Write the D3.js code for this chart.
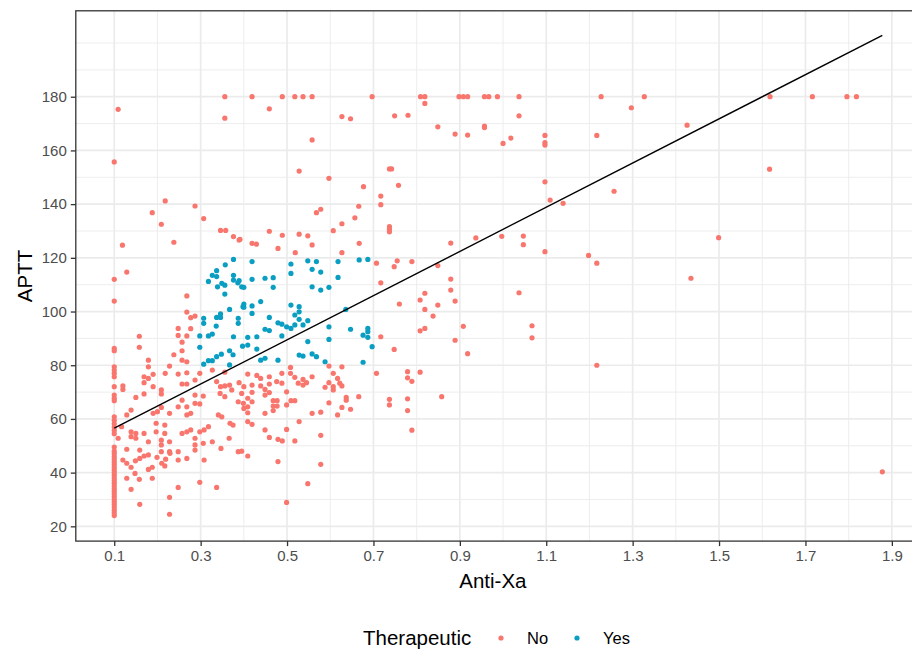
<!DOCTYPE html>
<html>
<head>
<meta charset="utf-8">
<script src="https://cdnjs.cloudflare.com/ajax/libs/d3/7.8.5/d3.min.js"></script>
<style>
  body { margin: 0; background: #fff; }
  svg text { font-family: "Liberation Sans", Arial, sans-serif; }
</style>
</head>
<body>
<div id="chart"></div>
<script>
// Anti-Xa vs APTT, coloured by Therapeutic (No / Yes)
var groups = ["No", "Yes"];
var groupColors = ["#F8766D", "#0A9EC2"];

var xTicks = [0.1, 0.3, 0.5, 0.7, 0.9, 1.1, 1.3, 1.5, 1.7, 1.9];
var yTicks = [20, 40, 60, 80, 100, 120, 140, 160, 180];
var xMinor = [0.2, 0.4, 0.6, 0.8, 1.0, 1.2, 1.4, 1.6, 1.8];
var yMinor = [30, 50, 70, 90, 110, 130, 150, 170, 190, 200];

// linear fit  APTT = a + b * AntiXa, drawn over the data range
var fitCoef = [48.3, 82.3];
var fitRange = [0.1, 1.878];

var noPoints = [
  [0.109,175.3],[0.1,155.7],[0.356,180],[0.356,172],[0.218,141.2],[0.188,136.8],[0.209,132.5],[0.287,139.3],
  [0.307,134.6],[0.346,130.2],[0.358,130.2],[0.376,127.9],[0.389,126.6],
  [0.119,124.7],[0.238,125.8],[0.129,114.7],[0.1,112],[0.1,103.9],[0.268,105.8],[0.268,99.8],[0.277,97.7],
  [0.287,98.3],[0.248,93.7],[0.277,93.6],[0.248,91.1],[0.268,90.9],[0.158,90.8],[0.158,86.7],[0.257,88.6],
  [0.1,86.3],[0.1,85.4],[0.257,85.4],[0.238,83.9],[0.257,81.9],[0.268,81.3],[0.179,81.9],[0.179,79.4],
  [0.228,79.7],[0.1,79.4],[0.1,78.2],[0.1,77],[0.1,75.7],[0.169,75.7],[0.179,75.1],[0.19,76.6],[0.218,77],
  [0.248,76.7],[0.268,77.2],[0.298,77],[0.169,73.5],[0.1,72],[0.12,72.3],[0.12,71],[0.19,72],[0.257,73],
  [0.268,73],[0.287,74.5],[0.337,73.9],[0.346,72],[0.356,72.3],[0.367,72.6],[0.389,73.5],[0.356,77.4],[0.327,78.2],
  [0.1,68.9],[0.1,67.7],[0.1,66.8],[0.1,60.8],[0.1,59.5],[0.1,58.2],[0.1,57],[0.1,55.8],[0.1,54.5],
  [0.109,52.8],[0.15,68],[0.139,63.3],[0.129,61.5],[0.169,69.3],[0.209,70.8],[0.209,69.3],[0.19,62.1],
  [0.2,62.7],[0.209,64.3],[0.228,62.1],[0.248,64.5],[0.268,64.5],[0.257,67],[0.268,61.5],[0.277,62.1],
  [0.287,68.9],[0.306,68.5],[0.287,65.8],[0.298,65.6],[0.345,69.5],[0.356,68.3],[0.372,70.8],[0.395,69.5],
  [0.387,66.4],[0.399,65.8],[0.341,61.5],[0.349,60.8],[0.368,58.4],[0.375,57.7],[0.117,57.1],[0.139,55.2],
  [0.15,54.6],[0.139,53.4],[0.15,52.8],[0.169,54.6],[0.197,58.4],[0.197,55.2],[0.217,57.7],[0.217,54.6],
  [0.179,51.5],[0.209,52.1],[0.209,50.3],[0.209,47.8],[0.228,51.5],[0.228,47.8],[0.257,54.6],[0.268,55.2],
  [0.277,55.9],[0.287,52.8],[0.287,50.3],[0.287,48.4],[0.298,55.2],[0.308,55.9],[0.318,57.1],[0.306,50.9],
  [0.327,51.5],[0.347,49],[0.366,52.8],[0.387,47.8],[0.395,48],[0.129,48.7],[0.159,48.4],[0.179,46.6],
  [0.169,46.2],[0.149,44.4],[0.159,45.3],[0.12,44.7],[0.129,43.5],[0.139,42],[0.148,39.7],[0.158,37.5],
  [0.199,45.7],[0.219,45],[0.217,42.5],[0.21,43.5],[0.229,47.2],[0.248,47.8],[0.248,44.7],[0.268,45.3],
  [0.179,41.2],[0.188,42],[0.129,37.9],[0.139,33.8],[0.188,37.9],[0.248,34.5],[0.298,36.4],[0.337,34.5],
  [0.228,30.8],[0.159,28.2],[0.228,24.5],[0.308,44.7],
  [0.1,24],[0.1,25],[0.1,26],[0.1,27],[0.1,28],[0.1,29],[0.1,30],[0.1,31],[0.1,32],[0.1,33],[0.1,34],
  [0.1,35],[0.1,36],[0.1,37],[0.1,38],[0.1,39],[0.1,40],[0.1,41],[0.1,42],[0.1,43],[0.1,44],[0.1,45],
  [0.1,46],[0.1,47],[0.1,48],[0.1,49.5],
  [0.419,180],[0.489,180],[0.518,180],[0.537,180],[0.558,180],[0.697,180],[0.459,175.5],[0.627,172.6],
  [0.647,171.8],[0.749,172.9],[0.558,163.9],[0.528,152.3],[0.737,153.1],[0.742,153.1],[0.597,149.6],
  [0.677,146.5],[0.758,147],[0.717,143],[0.717,139.8],[0.666,139.2],[0.568,136.8],[0.578,138.1],
  [0.657,134.9],[0.627,132.7],[0.607,130.1],[0.737,131.6],[0.737,130.6],[0.737,129.7],[0.459,129.9],
  [0.489,128.4],[0.528,128.8],[0.548,128.2],[0.391,126.9],
  [0.419,125.4],[0.429,125.1],[0.479,123.5],[0.558,124.8],[0.667,125.4],[0.519,121.9],[0.627,121.9],
  [0.707,118],[0.748,116.7],[0.755,118.9],[0.717,110.7],[0.717,90.6],[0.748,85.9],[0.707,77],
  [0.597,79.7],[0.627,79.4],[0.607,77],[0.617,75.1],[0.622,73.3],[0.607,72],[0.597,73.5],[0.409,76.7],
  [0.43,76.2],[0.439,75.1],[0.459,75.7],[0.488,77],[0.508,79.2],[0.508,77],[0.518,75.5],[0.537,74.7],
  [0.545,73.5],[0.558,75.7],[0.459,73],[0.476,73.9],[0.488,73.3],[0.439,72.3],[0.419,72.6],[0.4,72],
  [0.526,73.3],[0.537,72.6],
  [0.419,69.9],[0.409,67.7],[0.419,66.4],[0.409,64.5],[0.4,63.9],[0.409,62.3],[0.449,71],[0.449,68.9],
  [0.459,69.8],[0.468,66.8],[0.477,66.8],[0.468,64.8],[0.477,64.8],[0.468,63.1],[0.449,62.1],[0.499,70.1],
  [0.499,65.2],[0.509,66.8],[0.518,66.8],[0.558,62.1],[0.578,62.5],[0.588,71.8],[0.607,70.8],[0.627,72.3],
  [0.597,66],[0.637,68],[0.637,67],[0.627,64.3],[0.617,61.5],[0.647,63.6],[0.666,68.3],[0.737,67.3],
  [0.737,65.2],[0.528,59],[0.409,59],[0.419,58],[0.449,55.9],[0.499,56.1],[0.459,53.1],[0.479,52.4],
  [0.489,51.8],[0.518,51.8],[0.578,53.9],[0.409,46.2],[0.479,44.1],[0.578,43.1],[0.548,35.9],[0.499,28.9],
  [0.809,180],[0.819,180],[0.898,180],[0.908,180],[0.918,180],[0.957,180],[0.967,180],[0.987,180],
  [1.037,180],[1.227,180],[1.327,180],[0.819,177.5],[0.78,173.1],[1.037,172.9],[1.297,175.9],[0.849,168.8],
  [0.957,169.1],[0.957,168.5],[0.889,166.1],[0.918,165.7],[1.0,162.6],[1.018,164.6],[1.097,165.6],
  [1.097,162.9],[1.097,162],[1.217,165.6],[1.097,148.3],[1.109,141.5],[1.139,140.3],[1.257,144.8],
  [0.879,125.5],[0.937,127.4],[0.997,128],[1.047,128.1],[1.047,124.9],[1.097,122.3],[0.789,118.6],
  [0.849,117.1],[1.198,120.9],[1.217,118],[0.879,112.1],[0.879,108],[0.819,106.8],[0.808,104.3],
  [0.889,103.9],[0.849,102.4],[0.76,102.8],[1.037,107],[0.819,100.8],
  [0.838,98.3],[0.808,92.8],[0.819,93.7],[0.908,94.5],[1.067,94.7],[1.067,90.2],[0.889,89.3],[0.918,84.3],
  [1.217,80],[0.779,77.6],[0.808,77.4],[0.779,75.3],[0.789,74],[0.779,67.5],[0.858,68.3],[0.779,63.1],
  [0.789,55.8],
  [1.618,180],[1.716,180],[1.796,180],[1.818,180],[1.426,169.4],[1.617,153],[1.499,127.5],[1.435,112.4],
  [1.878,40.3]
];

var yesPoints = [
  [0.376,119.4],[0.357,117.4],[0.337,115.2],[0.327,113.5],[0.337,113],[0.318,111.2],[0.376,113.5],
  [0.376,111.7],[0.349,110.5],[0.356,109.8],[0.339,109.2],[0.389,111.5],[0.395,109.2],[0.386,110.7],
  [0.356,106.5],[0.398,101.8],[0.367,100.8],[0.346,99.1],[0.337,97.8],[0.346,97.8],[0.336,94.6],
  [0.307,97.5],[0.307,95.6],[0.387,97.5],[0.387,95.6],[0.327,91.6],[0.318,90.9],[0.298,90.9],[0.376,90.6],
  [0.298,86.7],[0.348,84.1],[0.337,83.2],[0.327,81.7],[0.318,81.7],[0.307,80.4],[0.367,85.4],[0.375,83.9],
  [0.367,80.1],[0.397,87.1],
  [0.419,118.6],[0.509,117.7],[0.509,114.2],[0.548,118.9],[0.568,118.6],[0.558,115.7],[0.578,114.7],
  [0.618,118.6],[0.618,112.7],[0.667,119.2],[0.687,119.4],[0.4,109],[0.419,112],[0.449,112.4],[0.468,112.6],
  [0.468,109],[0.558,109.2],[0.578,108],[0.597,109],[0.4,102.8],[0.419,102.1],[0.439,103.7],[0.4,101.6],
  [0.419,99.3],[0.509,102.4],[0.528,101.8],[0.528,99.9],[0.518,98.7],[0.528,97.1],[0.548,96.6],
  [0.459,97.8],[0.479,95.8],[0.488,95.3],[0.499,94.3],[0.509,93.7],[0.518,95],[0.537,95],[0.449,93.4],
  [0.459,92.9],[0.597,94.3],[0.636,100.8],[0.647,93.4],[0.687,93.7],[0.687,92.5],[0.676,91.2],[0.687,90.4],
  [0.409,90.4],[0.43,90.6],[0.409,87.5],[0.488,90.9],[0.548,88.8],[0.597,89.6],[0.697,86.9],[0.43,86],
  [0.439,81.9],[0.449,82.6],[0.479,81.9],[0.528,83.8],[0.537,83.4],[0.558,84.2],[0.568,83.2],[0.588,81.3],
  [0.676,81.1]
];

var width = 912,
    height = 654,
    panelLeft = 75.8,
    panelTop = 10.8,
    panelBottom = 541.1,
    pxPerUnit = 432,
    pointR = 2.6;

var x = d3.scaleLinear()
          .domain([0.011, 1.967])
          .range([panelLeft, panelLeft + (1.967 - 0.011) * pxPerUnit]);

var y = d3.scaleLinear()
          .domain([14.5, 212])
          .range([panelBottom, panelTop]);

var svg = d3.select("#chart")
            .append("svg")
              .attr("width", width)
              .attr("height", height);

var panelRight = x.range()[1];

// grid
var grid = svg.append("g");
grid.selectAll(".xminor").data(xMinor).enter().append("line")
    .attr("x1", function(d){ return x(d); }).attr("x2", function(d){ return x(d); })
    .attr("y1", panelTop).attr("y2", panelBottom)
    .attr("stroke", "#EBEBEB").attr("stroke-width", 0.9);
grid.selectAll(".yminor").data(yMinor).enter().append("line")
    .attr("y1", function(d){ return y(d); }).attr("y2", function(d){ return y(d); })
    .attr("x1", panelLeft).attr("x2", panelRight)
    .attr("stroke", "#EBEBEB").attr("stroke-width", 0.9);
grid.selectAll(".xmajor").data(xTicks).enter().append("line")
    .attr("x1", function(d){ return x(d); }).attr("x2", function(d){ return x(d); })
    .attr("y1", panelTop).attr("y2", panelBottom)
    .attr("stroke", "#EBEBEB").attr("stroke-width", 1.7);
grid.selectAll(".ymajor").data(yTicks).enter().append("line")
    .attr("y1", function(d){ return y(d); }).attr("y2", function(d){ return y(d); })
    .attr("x1", panelLeft).attr("x2", panelRight)
    .attr("stroke", "#EBEBEB").attr("stroke-width", 1.7);

// points
var color = d3.scaleOrdinal().domain(groups).range(groupColors);

svg.append("g").selectAll("circle.no")
    .data(noPoints)
    .enter()
    .append("circle")
      .attr("cx", function(d){ return x(d[0]); })
      .attr("cy", function(d){ return y(d[1]); })
      .attr("r", pointR)
      .style("fill", color("No"));

svg.append("g").selectAll("circle.yes")
    .data(yesPoints)
    .enter()
    .append("circle")
      .attr("cx", function(d){ return x(d[0]); })
      .attr("cy", function(d){ return y(d[1]); })
      .attr("r", pointR)
      .style("fill", color("Yes"));

// fit line
svg.append("line")
    .attr("x1", x(fitRange[0])).attr("y1", y(fitCoef[0] + fitCoef[1] * fitRange[0]))
    .attr("x2", x(fitRange[1])).attr("y2", y(fitCoef[0] + fitCoef[1] * fitRange[1]))
    .attr("stroke", "#000").attr("stroke-width", 1.4);

// panel border
svg.append("rect")
    .attr("x", panelLeft).attr("y", panelTop)
    .attr("width", panelRight - panelLeft).attr("height", panelBottom - panelTop)
    .attr("fill", "none").attr("stroke", "#333").attr("stroke-width", 1.3);

// axes
var xAxis = d3.axisBottom(x).tickValues(xTicks).tickSize(5).tickPadding(4)
              .tickFormat(d3.format(".1f"));
var yAxis = d3.axisLeft(y).tickValues(yTicks).tickSize(5).tickPadding(4);

var gx = svg.append("g")
    .attr("transform", "translate(0," + panelBottom + ")")
    .call(xAxis);
var gy = svg.append("g")
    .attr("transform", "translate(" + panelLeft + ",0)")
    .call(yAxis);

[gx, gy].forEach(function(g){
  g.select(".domain").remove();
  g.selectAll(".tick line").attr("stroke", "#333").attr("stroke-width", 1.3);
  g.selectAll(".tick text").attr("fill", "#4D4D4D").style("font-size", "15px")
   .style("font-family", "'Liberation Sans', Arial, sans-serif");
});

svg.append("text")
    .attr("x", (panelLeft + 910) / 2)
    .attr("y", 588)
    .attr("text-anchor", "middle")
    .style("font-size", "20.5px")
    .text("Anti-Xa");

svg.append("text")
    .attr("transform", "translate(32," + ((panelTop + panelBottom) / 2) + ") rotate(-90)")
    .attr("text-anchor", "middle")
    .style("font-size", "20.5px")
    .text("APTT");

// legend
var legend = svg.append("g").attr("transform", "translate(0,638)");
legend.append("text")
    .attr("x", 363).attr("y", 7)
    .style("font-size", "20.5px")
    .text("Therapeutic");

var legendX = [501, 577];
groups.forEach(function(g, i){
  legend.append("circle")
      .attr("cx", legendX[i]).attr("cy", 0)
      .attr("r", pointR)
      .style("fill", color(g));
  legend.append("text")
      .attr("x", legendX[i] + 26).attr("y", 6)
      .style("font-size", "16.5px")
      .text(g);
});
</script>
</body>
</html>
